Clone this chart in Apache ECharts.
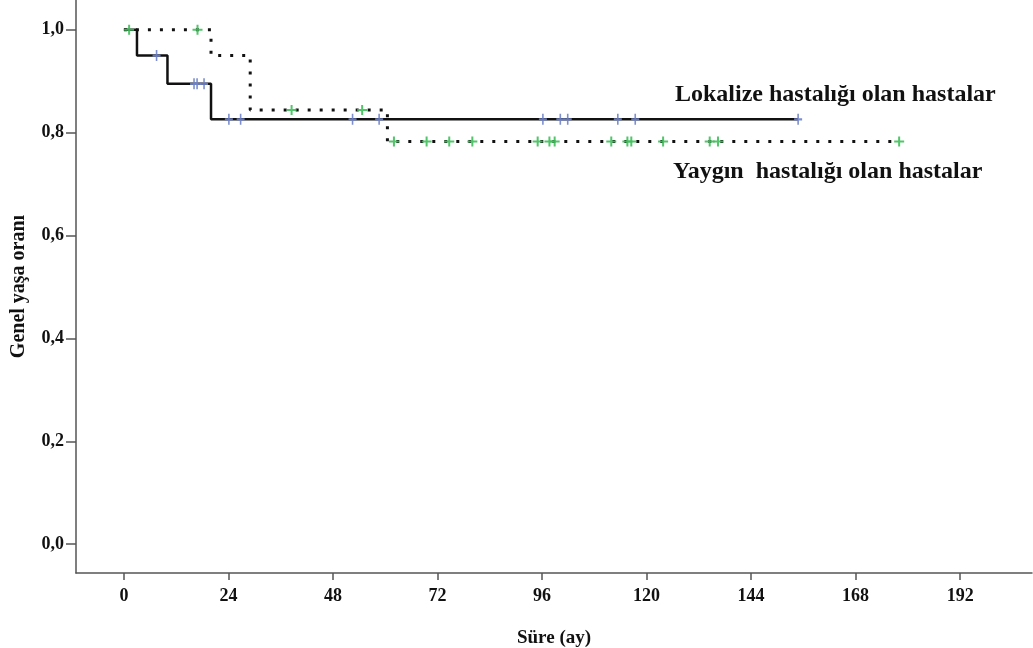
<!DOCTYPE html>
<html><head><meta charset="utf-8">
<script src="https://cdn.jsdelivr.net/npm/echarts@6/dist/echarts.min.js"></script>
<style>html,body{margin:0;padding:0;background:#fff}#c{width:1033px;height:648px}</style>
</head><body><div id="c"></div>
<script>
// Kaplan-Meier step curves (time in months, survival proportion)
const lokalizeTimes = [0, 3, 10, 20, 154.8];
const lokalizeSurv  = [1.0, 0.95, 0.895, 0.826, 0.826];
const yayginTimes   = [0, 20, 29, 60.5, 178];
const yayginSurv    = [1.0, 0.95, 0.844, 0.783, 0.783];
// censored observations (months)
const lokalizeCensor = [7.5, 16.1, 16.8, 18.4, 24.1, 26.8, 52.5, 58.6, 96.2, 100.2, 101.9, 113.4, 117.4, 154.8];
const yayginCensor   = [1.2, 16.9, 38.5, 54.7, 62, 69.5, 74.7, 80, 95, 97.7, 98.9, 111.9, 115.6, 116.5, 123.8, 134.5, 136.4, 178];
const xTicks = [0, 24, 48, 72, 96, 120, 144, 168, 192];
const yTicks = [0, 0.2, 0.4, 0.6, 0.8, 1.0];
const labelLokalize = 'Lokalize hastalığı olan hastalar';
const labelYaygin = 'Yaygın  hastalığı olan hastalar';
const xTitle = 'Süre (ay)';
const yTitle = 'Genel yaşa oranı';

function pairs(t, s) { return t.map((v, i) => [v, s[i]]); }
function survAt(t, s, x) { let v = s[0]; for (let i = 0; i < t.length; i++) { if (t[i] <= x) v = s[i]; } return v; }

const SERIF = '"Liberation Serif", "Times New Roman", serif';
const plus = 'path://M4,0 L6,0 L6,4 L10,4 L10,6 L6,6 L6,10 L4,10 L4,6 L0,6 L0,4 L4,4 Z';

const chart = echarts.init(document.getElementById('c'), null, { renderer: 'canvas' });
chart.setOption({
  animation: false,
  backgroundColor: '#fff',
  grid: { left: 76, right: 1, top: 0, bottom: 75, containLabel: false, outerBoundsMode: 'none' },
  xAxis: {
    type: 'value', min: -11, max: 208.5,
    name: xTitle, nameLocation: 'middle', nameGap: 56,
    nameTextStyle: { fontFamily: SERIF, fontWeight: 'bold', fontSize: 19, color: '#111' },
    axisLine: { show: true, onZero: false, lineStyle: { color: '#555', width: 1.5 } },
    axisTick: { show: true, length: 7, customValues: xTicks, lineStyle: { color: '#555', width: 1.5 } },
    axisLabel: { customValues: xTicks, margin: 14, fontFamily: SERIF, fontWeight: 'bold', fontSize: 18, color: '#111' },
    splitLine: { show: false }
  },
  yAxis: {
    type: 'value', min: -0.056, max: 1.058,
    name: yTitle, nameLocation: 'middle', nameGap: 47, nameRotate: 90,
    nameTextStyle: { fontFamily: SERIF, fontWeight: 'bold', fontSize: 20, color: '#111' },
    axisLine: { show: true, onZero: false, lineStyle: { color: '#555', width: 1.5 } },
    axisTick: { show: true, length: 10, customValues: yTicks, lineStyle: { color: '#555', width: 1.5 } },
    axisLabel: { customValues: yTicks, margin: 12, fontFamily: SERIF, fontWeight: 'bold', fontSize: 18, color: '#111',
      formatter: v => v.toFixed(1).replace('.', ',') },
    splitLine: { show: false }
  },
  series: [
    { name: 'Yaygın', type: 'line', step: 'end', data: pairs(yayginTimes, yayginSurv), symbol: 'none',
      lineStyle: { color: '#111', width: 3, type: [3, 9], cap: 'butt' }, z: 2 },
    { name: 'Lokalize', type: 'line', step: 'end', data: pairs(lokalizeTimes, lokalizeSurv), symbol: 'none',
      lineStyle: { color: '#111', width: 2.5 }, z: 3 },
    { name: 'Lokalize censor', type: 'scatter', symbol: plus, symbolSize: [8, 11],
      data: lokalizeCensor.map(x => [x, survAt(lokalizeTimes, lokalizeSurv, x)]),
      itemStyle: { color: '#6f83c8', opacity: 0.9 }, z: 4 },
    { name: 'Yaygın censor', type: 'scatter', symbol: plus, symbolSize: [10, 10],
      data: yayginCensor.map(x => [x, survAt(yayginTimes, yayginSurv, x)]),
      itemStyle: { color: '#3fbf5a', opacity: 0.9 }, z: 4 }
  ],
  graphic: [
    { type: 'text', left: 675, top: 83, style: { text: labelLokalize, fontFamily: SERIF, fontWeight: 'bold', fontSize: 24, fill: '#111' } },
    { type: 'text', left: 673, top: 160, style: { text: labelYaygin, fontFamily: SERIF, fontWeight: 'bold', fontSize: 24, fill: '#111' } }
  ]
});
</script></body></html>
